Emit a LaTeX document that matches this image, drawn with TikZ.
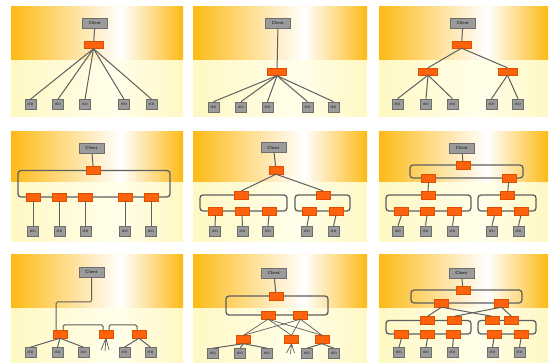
\documentclass[tikz,border=0pt]{standalone}
\usetikzlibrary{calc}
\definecolor{bandor}{RGB}{253,186,22}
\definecolor{bandyl}{RGB}{255,248,195}
\definecolor{bandylc}{RGB}{255,254,234}
\definecolor{swfill}{RGB}{255,98,12}
\definecolor{swdraw}{RGB}{220,80,0}
\definecolor{boxfill}{RGB}{155,155,155}
\definecolor{boxdraw}{RGB}{110,110,110}
\definecolor{linec}{RGB}{95,95,95}
\tikzset{
 client/.style={draw=boxdraw, fill=boxfill, line width=0.6pt, minimum width=25pt, minimum height=10pt, inner sep=0pt, font=\sffamily\bfseries\fontsize{4.5}{5}\selectfont, text=black!80},
 ied/.style={client, minimum width=11pt, minimum height=10pt, font=\sffamily\bfseries\fontsize{3.2}{4}\selectfont},
 sw/.style={draw=swdraw, fill=swfill, line width=0.4pt, minimum width=14pt, minimum height=8pt, inner sep=0pt},
 swb/.style={sw, minimum width=19pt, minimum height=7pt},
 ln/.style={draw=linec, line width=1pt},
 ring/.style={draw=linec, line width=1.3pt, rounded corners=3pt},
}
\newcommand{\mypanel}[5]{%
 \shade[left color=bandor, right color=white] (#1,#2) rectangle ({#1+0.64*(#3-#1)},#4);
 \shade[left color=white, right color=bandor] ({#1+0.64*(#3-#1)},#2) rectangle (#3,#4);
 \shade[left color=bandyl, right color=bandylc] (#1,#4) rectangle ({#1+0.6*(#3-#1)},#5);
 \shade[left color=bandylc, right color=bandyl] ({#1+0.6*(#3-#1)},#4) rectangle (#3,#5);
}
\begin{document}
\begin{tikzpicture}[x=1pt,y=-1pt]
\useasboundingbox (0,0) rectangle (550,363);
\fill[white] (0,0) rectangle (550,363);
% panels
\mypanel{11}{7}{183}{61}{117}
\mypanel{193}{7}{367}{61}{117}
\mypanel{379}{7}{548}{61}{117}
\mypanel{11}{132}{183}{183}{242}
\mypanel{193}{132}{367}{183}{242}
\mypanel{379}{132}{548}{183}{242}
\mypanel{11}{255}{183}{309}{363}
\mypanel{193}{255}{367}{309}{363}
\mypanel{379}{255}{548}{309}{363}
% rings
\draw[ring] (18,170.5) rectangle (170,197);
\draw[ring] (200,195) rectangle (287,211);
\draw[ring] (295,195) rectangle (350,211);
\draw[ring] (410,165) rectangle (523,178);
\draw[ring] (386,195) rectangle (471,211);
\draw[ring] (478,195) rectangle (536,211);
\draw[ring] (226,296) rectangle (328,315);
\draw[ring] (411,290) rectangle (522,303);
\draw[ring] (386,320.5) rectangle (471,334);
\draw[ring] (478,320.5) rectangle (536,334);

% ---------- Panel 1
\node[client] (c1) at (95,23) {Client};
\node[swb] (s1) at (93.5,45) {};
\foreach \n/\x in {a/30.5,b/58,c/85,d/124,e/151.5}{
 \node[ied] (i1\n) at (\x,104.5) {IED};
 \draw[ln] (s1.south) -- (i1\n.north);
}
\draw[ln] (c1) -- (s1);

% ---------- Panel 2
\node[client] (c2) at (278,23) {Client};
\node[swb] (s2) at (277,72) {};
\foreach \n/\x in {a/213.5,b/241,c/267.5,d/307.5,e/333.5}{
 \node[ied] (i2\n) at (\x,107) {IED};
 \draw[ln] (s2.south) -- (i2\n.north);
}
\draw[ln] (c2) -- (s2);

% ---------- Panel 3
\node[client] (c3) at (463,23) {Client};
\node[swb] (s3) at (461.5,44.5) {};
\node[swb] (s3a) at (428,71.5) {};
\node[swb] (s3b) at (507.5,71.5) {};
\draw[ln] (c3) -- (s3);
\draw[ln] (s3.south) -- (s3a.north);
\draw[ln] (s3.south) -- (s3b.north);
\foreach \n/\x in {a/397.5,b/426,c/452.5}{
 \node[ied] (i3\n) at (\x,104) {IED};
 \draw[ln] (s3a.south) -- (i3\n.north);
}
\foreach \n/\x in {d/491.5,e/518}{
 \node[ied] (i3\n) at (\x,104) {IED};
 \draw[ln] (s3b.south) -- (i3\n.north);
}

% ---------- Panel 4
\node[client] (c4) at (91.5,148) {Client};
\node[sw] (s4) at (93.5,170.5) {};
\draw[ln] (c4) -- (s4);
\foreach \n/\x in {a/33,b/59.5,c/85.5,d/125,e/151}{
 \node[sw] (s4\n) at (\x,197) {};
 \node[ied] (i4\n) at (\x,231) {IED};
 \draw[ln] (s4\n.south) -- (i4\n.north);
}

% ---------- Panel 5
\node[client] (c5) at (273.5,147.5) {Client};
\node[sw] (s5) at (276,170) {};
\node[sw] (s5a) at (241.5,195) {};
\node[sw] (s5b) at (323,195) {};
\draw[ln] (c5) -- (s5);
\draw[ln] (s5.south) -- (s5a.north);
\draw[ln] (s5.south) -- (s5b.north);
\foreach \n/\x/\y in {a/215.5/215,b/242/242.5,c/269/268,d/309/307,e/336/333.5}{
 \node[sw] (s5\n b) at (\x,211) {};
 \node[ied] (i5\n) at (\y,231.5) {IED};
 \draw[ln] (s5\n b.south) -- (i5\n.north);
}

% ---------- Panel 6
\node[client] (c6) at (462,148) {Client};
\node[sw] (s6) at (463,165) {};
\node[sw] (s6a) at (428.5,178) {};
\node[sw] (s6b) at (509,178) {};
\node[sw] (s6c) at (428,195) {};
\node[sw] (s6d) at (507.5,195) {};
\draw[ln] (c6) -- (s6);
\draw[ln] (s6a) -- (s6c);
\draw[ln] (s6b) -- (s6d);
\foreach \n/\x/\y in {a/401.5/398,b/427/425.5,c/454/452.5,d/494.5/492,e/521/518.5}{
 \node[sw] (s6\n b) at (\x,211) {};
 \node[ied] (i6\n) at (\y,231) {IED};
 \draw[ln] (s6\n b.south) -- (i6\n.north);
}

% ---------- Panel 7
\node[client] (c7) at (91.5,272) {Client};
\node[sw] (s7a) at (60,334) {};
\node[sw] (s7b) at (106,334) {};
\node[sw] (s7c) at (139,334) {};
\coordinate (k7) at ($(s7a.north)+(-4,0)$);
\draw[ln, rounded corners=1.5pt] (c7.south) |- (k7 |- 0,302) -- (k7);
\draw[ln, rounded corners=1.5pt] ($(s7a.north)+(3,0)$) |- ($(s7b.north)+(-3,-5)$) -- ($(s7b.north)+(-3,0)$);
\draw[ln, rounded corners=1.5pt] ($(s7b.north)+(3,0)$) |- ($(s7c.north)+(-2,-5)$) -- ($(s7c.north)+(-2,0)$);
\foreach \n/\x in {a/30.5,b/57.5,c/83.5}{
 \node[ied] (i7\n) at (\x,352.5) {IED};
 \draw[ln] (s7a.south) -- (i7\n.north);
}
\foreach \n/\x in {d/124.5,e/150.5}{
 \node[ied] (i7\n) at (\x,352.5) {IED};
 \draw[ln] (s7c.south) -- (i7\n.north);
}
\coordinate (t7a) at (101,350);
\coordinate (t7b) at (105,351);
\coordinate (t7c) at (109,350);
\draw[ln, line width=0.7pt] (s7b.south) -- (t7a) (s7b.south) -- (t7b) (s7b.south) -- (t7c);

% ---------- Panel 8
\node[client] (c8) at (274,273) {Client};
\node[sw] (s8) at (276,296) {};
\node[sw] (s8a) at (268,315) {};
\node[sw] (s8b) at (300.5,315) {};
\node[sw] (s8c) at (243.5,339.5) {};
\node[sw] (s8d) at (291.5,339.5) {};
\node[sw] (s8e) at (322,339.5) {};
\draw[ln] (c8) -- (s8);
\foreach \u in {s8a,s8b}{
 \foreach \v in {s8c,s8d,s8e}{
  \draw[ln, line width=0.7pt] (\u.south) -- (\v.north);
 }
}
\foreach \n/\x in {a/213,b/240,c/267}{
 \node[ied] (i8\n) at (\x,353.5) {IED};
 \draw[ln] (s8c.south) -- (i8\n.north);
}
\foreach \n/\x in {d/307,e/334}{
 \node[ied] (i8\n) at (\x,353.5) {IED};
 \draw[ln] (s8e.south) -- (i8\n.north);
}
\coordinate (t8a) at (286.5,353);
\coordinate (t8b) at (290.5,354);
\coordinate (t8c) at (294.5,353);
\draw[ln, line width=0.7pt] (s8d.south) -- (t8a) (s8d.south) -- (t8b) (s8d.south) -- (t8c);

% ---------- Panel 9
\node[client] (c9) at (461.5,273) {Client};
\node[sw] (s9) at (463,290) {};
\node[sw] (s9a) at (441.5,303) {};
\node[sw] (s9b) at (501.5,303) {};
\node[sw] (s9c) at (427.5,320.5) {};
\node[sw] (s9d) at (454.5,320.5) {};
\node[sw] (s9e) at (492,320.5) {};
\node[sw] (s9f) at (511.5,320.5) {};
\draw[ln] (c9) -- (s9);
\draw[ln] (s9a.south) -- (s9c.north);
\draw[ln] (s9a.south) -- (s9e.north);
\draw[ln] (s9b.south) -- (s9d.north);
\draw[ln] (s9b.south) -- (s9f.north);
\foreach \n/\x/\y in {a/401.5/399,b/427.5/426,c/453.5/452.5,d/494/492.5,e/521/519.5}{
 \node[sw] (s9\n b) at (\x,334) {};
 \node[ied] (i9\n) at (\y,352.5) {IED};
 \draw[ln] (s9\n b.south) -- (i9\n.north);
}
\end{tikzpicture}
\end{document}
